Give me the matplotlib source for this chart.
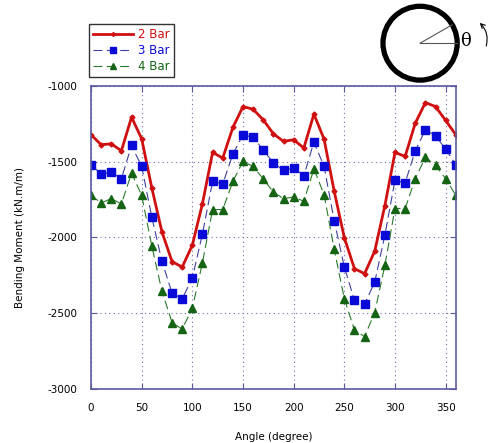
import numpy as np
import matplotlib
matplotlib.use("Agg")
import matplotlib.pyplot as plt
from matplotlib.patches import Circle, FancyArrowPatch

plt.rcParams['axes.unicode_minus'] = False

angle = list(range(0, 361, 10))

bar2 = [-1322, -1388, -1382, -1428, -1206, -1349, -1673, -1963, -2160, -2195,
        -2051, -1776, -1439, -1476, -1274, -1136, -1154, -1224, -1316, -1366,
        -1355, -1410, -1186, -1351, -1695, -2002, -2206, -2239, -2090, -1790,
        -1439, -1465, -1246, -1110, -1136, -1228, -1322]
bar3 = [-1520, -1581, -1570, -1612, -1393, -1531, -1866, -2157, -2368, -2404,
        -2268, -1976, -1630, -1647, -1450, -1322, -1340, -1421, -1509, -1557,
        -1542, -1592, -1371, -1531, -1889, -2195, -2415, -2441, -2294, -1985,
        -1622, -1640, -1428, -1290, -1329, -1417, -1520]
bar4 = [-1722, -1772, -1744, -1779, -1575, -1722, -2057, -2355, -2562, -2605,
        -2467, -2166, -1816, -1816, -1630, -1498, -1531, -1614, -1700, -1744,
        -1733, -1761, -1548, -1717, -2079, -2404, -2612, -2654, -2496, -2184,
        -1809, -1809, -1612, -1472, -1524, -1612, -1722]

red = '#d01010'
blue = '#0a0ad8'
green = '#146414'
spine = '#5a5aa0'

fig = plt.figure(figsize=(4.88, 4.43), dpi=100)
ax = fig.add_axes([0.1865, 0.122, 0.7475, 0.684])

l2, = ax.plot(angle, bar2, color=red, lw=2, marker='D', ms=2.5, label='2 Bar')
l3, = ax.plot(angle, bar3, color='#4040a0', lw=0.8, ls=(0, (8, 4)), marker='s',
              ms=6, mfc=blue, mec=blue, label='3 Bar')
l4, = ax.plot(angle, bar4, color='#2a7a2a', lw=0.8, ls=(0, (8, 4)), marker='^',
              ms=6, mfc=green, mec=green, label='4 Bar')

ax.set_xlim(0, 360)
ax.set_ylim(-3000, -1000)
ax.set_xticks(range(0, 351, 50))
ax.set_yticks(range(-3000, -999, 500))
ax.grid(True, color='#7070a8', ls=(0, (1, 3)), lw=0.8)
for s in ax.spines.values():
    s.set_color(spine)
    s.set_linewidth(1.2)
ax.tick_params(direction='in', length=4, color=spine, labelsize=7.5,
               top=True, right=True, pad=10)
ax.set_xlabel('Angle (degree)', fontsize=7.5, labelpad=14)
ax.set_ylabel('Bending Moment (kN.m/m)', fontsize=7.5, labelpad=16)

leg = fig.legend(handles=[l2, l3, l4], loc='upper left',
                 bbox_to_anchor=(0.182, 0.946), borderaxespad=0, fontsize=8.5,
                 frameon=True, fancybox=False, edgecolor='black',
                 handlelength=3.4, handletextpad=0.4, borderpad=0.35,
                 labelspacing=0.25, markerscale=0.8)
leg.get_frame().set_linewidth(1.0)
for txt, c in zip(leg.get_texts(), [red, blue, green]):
    txt.set_color(c)

# circle sketch
cax = fig.add_axes([0.762, 0.8025, 0.2357, 0.2])
cax.set_xlim(-1.3, 1.8)
cax.set_ylim(-1.2, 1.2)
cax.axis('off')
cax.add_patch(Circle((0, 0), 1, fill=False, lw=3.8, color='black'))
cax.plot([0, 1], [0, 0], color='#555555', lw=0.8)
cax.plot([0, np.cos(np.radians(30))], [0, np.sin(np.radians(30))], color='#555555', lw=0.8)
cax.text(1.08, 0.05, '\u03b8', fontsize=13, family='DejaVu Serif', va='center')
cax.add_patch(FancyArrowPatch((1.76, -0.15), (1.55, 0.6),
                              connectionstyle='arc3,rad=0.35', arrowstyle='->',
                              mutation_scale=8, lw=0.8, color='black',
                              clip_on=False))

fig.savefig('out.png', dpi=100)
